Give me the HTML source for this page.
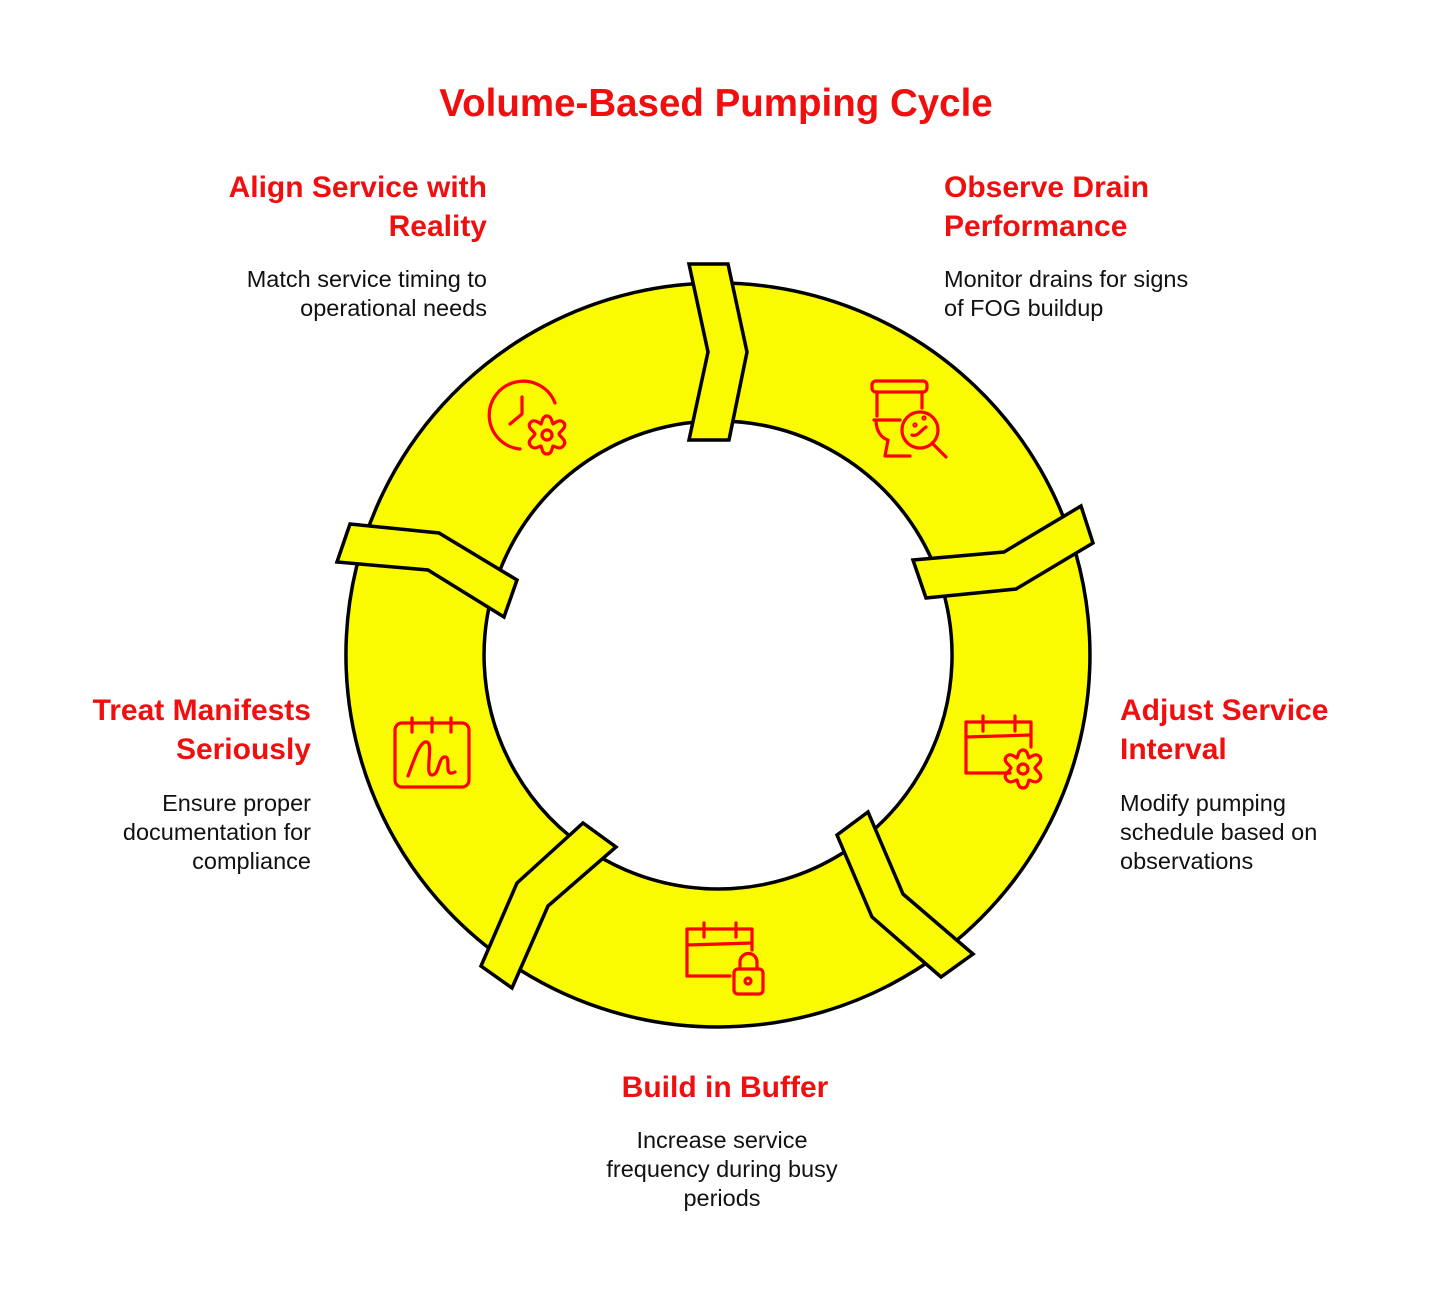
<!DOCTYPE html>
<html><head><meta charset="utf-8"><style>
html,body{margin:0;padding:0;background:#fff;}
svg{display:block;}
text{font-family:"Liberation Sans",Arial,sans-serif;}
.t{fill:#f00f0f;font-weight:bold;font-size:30px;}
.d{fill:#111;font-size:23.5px;}
.ic{fill:none;stroke:#f00;stroke-width:3.2;stroke-linecap:round;stroke-linejoin:round;}
</style></head><body>
<svg width="1431" height="1291" viewBox="0 0 1431 1291" xmlns="http://www.w3.org/2000/svg">
<defs>
<path id="gear" d="M0,-19 C5,-19 5,-12 6,-11 C8,-12 13,-17 17,-12 C20,-7 13,-4 12,-1 C13,2 20,5 17,10 C13,16 8,11 6,11 C5,13 5,19 0,19 C-5,19 -5,13 -6,11 C-8,11 -13,16 -17,10 C-20,5 -13,2 -12,-1 C-13,-4 -20,-7 -17,-12 C-13,-17 -8,-12 -6,-11 C-5,-12 -5,-19 0,-19 Z"/>
</defs>
<path fill="#fafa00" stroke="#000" stroke-width="3.5" fill-rule="evenodd"
 d="M718,283 A372,372 0 1,1 717.9,283 Z M718,421 A234,234 0 1,0 718.1,421 Z"/>
<g fill="#fafa00" stroke="#000" stroke-width="3.5" stroke-linejoin="miter">
<polygon points="689,264 728,264 747,352 729,440 689,440 708,352"/>
<polygon points="913,560 1004,552 1081,506 1093,543 1016,589 926,598"/>
<polygon points="837,835 868,812 903,894 973,954 941,977 872,917"/>
<polygon points="583,823 616,847 548,906 512,988 481,966 517,883"/>
<polygon points="350,524 439,533 517,580 504,617 428,570 337,562"/>
</g>
<!-- clock gear -->
<g class="ic">
<path d="M520,449 A34,34 0 1,1 555,403"/>
<path d="M522,397 L522,414 L510,424"/>
<use href="#gear" x="547" y="435"/>
<circle cx="547" cy="435" r="5"/>
</g>
<!-- toilet search -->
<g class="ic">
<rect x="872" y="381" width="55" height="11" rx="4"/>
<path d="M877,392 L877,416 M922,392 L922,408"/>
<path d="M874,420 L900,420 M876,420 C876,432 882,438 888,440 L885,456 L910,456"/>
<circle cx="920" cy="430" r="18"/>
<path d="M932,443 L946,457"/>
<circle cx="915" cy="425" r="1"/><circle cx="924" cy="418" r="1"/>
<path d="M912,435 C918,437 921,430 926,427"/>
</g>
<!-- calendar gear -->
<g class="ic">
<path d="M1010,773 L966,773 L966,722 L1031,722 L1031,747"/>
<path d="M966,737 L1031,735 M983,716 L983,731 M1015,716 L1015,731"/>
<use href="#gear" x="1023" y="769"/>
<circle cx="1023" cy="769" r="5"/>
</g>
<!-- calendar lock -->
<g class="ic">
<path d="M730,976 L687,976 L687,929 L752,929 L752,950"/>
<path d="M687,945 L752,943 M704,923 L704,937 M736,923 L736,937"/>
<rect x="734" y="969" width="29" height="25" rx="4"/>
<path d="M740,969 L740,962 A8,8 0 0,1 757,962 L757,969"/>
<circle cx="748" cy="981" r="3"/>
</g>
<!-- calendar signature -->
<g class="ic">
<rect x="395" y="723" width="74" height="64" rx="7"/>
<path d="M412,718 L412,732 M432,718 L432,732 M451,718 L451,732"/>
<path d="M408,776 C414,760 420,740 427,742 C434,744 424,775 432,775 C440,775 438,755 446,757 C451,759 443,778 455,772"/>
</g>
<text x="716" y="116" text-anchor="middle" class="t" style="font-size:38.5px">Volume-Based Pumping Cycle</text>
<text x="487" y="197" text-anchor="end" class="t">Align Service with</text>
<text x="487" y="236" text-anchor="end" class="t">Reality</text>
<text x="487" y="287" text-anchor="end" class="d">Match service timing to</text>
<text x="487" y="316" text-anchor="end" class="d">operational needs</text>
<text x="944" y="197" class="t">Observe Drain</text>
<text x="944" y="236" class="t">Performance</text>
<text x="944" y="287" class="d">Monitor drains for signs</text>
<text x="944" y="316" class="d">of FOG buildup</text>
<text x="1120" y="720" class="t">Adjust Service</text>
<text x="1120" y="759" class="t">Interval</text>
<text x="1120" y="811" class="d">Modify pumping</text>
<text x="1120" y="840" class="d">schedule based on</text>
<text x="1120" y="869" class="d">observations</text>
<text x="311" y="720" text-anchor="end" class="t">Treat Manifests</text>
<text x="311" y="759" text-anchor="end" class="t">Seriously</text>
<text x="311" y="811" text-anchor="end" class="d">Ensure proper</text>
<text x="311" y="840" text-anchor="end" class="d">documentation for</text>
<text x="311" y="869" text-anchor="end" class="d">compliance</text>
<text x="725" y="1097" text-anchor="middle" class="t">Build in Buffer</text>
<text x="722" y="1148" text-anchor="middle" class="d">Increase service</text>
<text x="722" y="1177" text-anchor="middle" class="d">frequency during busy</text>
<text x="722" y="1206" text-anchor="middle" class="d">periods</text>
</svg>
</body></html>
